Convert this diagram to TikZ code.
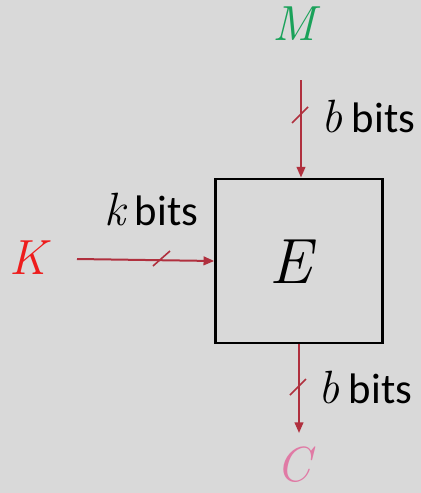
\documentclass[tikz,border=0pt]{standalone}
\usepackage{fontspec}
\newfontfamily\labelfont{Carlito}
\usetikzlibrary{arrows.meta}
\definecolor{bggray}{HTML}{D9D9D9}
\definecolor{wirered}{HTML}{B0303E}
\definecolor{mgreen}{HTML}{1AA25A}
\definecolor{kred}{HTML}{EE1C1C}
\definecolor{cpink}{HTML}{E07AA5}
\newcommand{\sym}[1]{{\rmfamily\itshape\fontsize{35}{38}\selectfont #1}}
\tikzset{
  wire/.style={draw=wirered, line width=1.5pt, -{Triangle[length=8pt,width=6.5pt]}},
  cut/.style={draw=wirered, line width=1.2pt},
  var/.style={inner sep=0pt, font=\fontsize{37}{40}\selectfont\itshape},
  bitlabel/.style={inner sep=0pt, anchor=base west, font=\fontsize{32}{36}\selectfont\labelfont},
}
\begin{document}
\begin{tikzpicture}[x=0.75pt,y=-0.75pt]
        \fill[bggray] (0,0) rectangle (421,493);
        \useasboundingbox (0,0) rectangle (421,493);
        % the block
        \node[draw, line width=2.2pt, minimum width=125pt, minimum height=123pt, inner sep=0pt] (box) at (299,261) {};
        \node[inner sep=0pt, font=\fontsize{48}{50}\selectfont\itshape] (e) at (291,262) {E};
        % inputs and output
        \node[var, text=mgreen] (m) at (294,24) {M};
        \node[var, text=kred] (k) at (28,258) {K};
        \node[var, text=cpink] (c) at (294,465) {C};
        \coordinate (mStart) at (301,80);
        \coordinate (kStart) at (77,259);
        \coordinate (cEnd) at (299,433);
        \draw[wire] (mStart) -- (mStart |- box.north);
        \draw[wire] (kStart) -- (box.west);
        \draw[wire] (box.south -| cEnd) -- (cEnd);
        \draw[cut] (292,123) -- (308,107);
        \draw[cut] (153,266) -- (170,251);
        \draw[cut] (290,395) -- (306,379);
        \node[bitlabel] (bIn) at (321,132) {\sym{b} bits};
        \node[bitlabel] (kIn) at (104,225) {\sym{k} bits};
        \node[bitlabel] (bOut) at (318,403) {\sym{b} bits};
\end{tikzpicture}
\end{document}
